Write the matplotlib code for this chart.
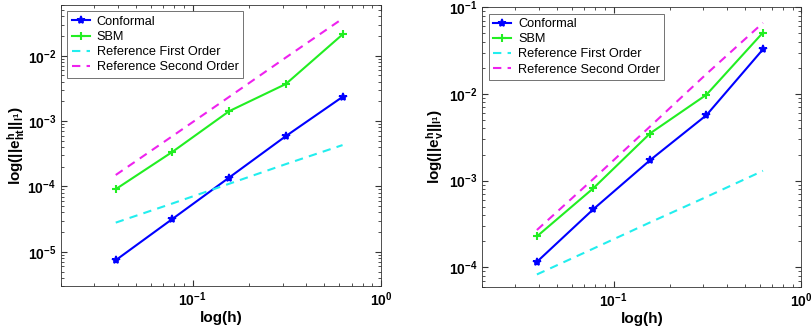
import matplotlib
matplotlib.use("Agg")
from matplotlib import pyplot as plt

plt.rcParams['font.family'] = ['Liberation Sans', 'DejaVu Sans']
plt.rcParams['mathtext.default'] = 'regular'
plt.rcParams['mathtext.fontset'] = 'custom'
plt.rcParams['mathtext.bf'] = 'Liberation Sans:bold'
plt.rcParams['mathtext.rm'] = 'Liberation Sans'

# tamanhos de malha
h = [0.0390625, 0.078125, 0.15625, 0.3125, 0.625]

# erro ht (esquerda)
conf_ht = [7.45e-6, 3.19e-5, 1.37e-4, 5.9e-4, 2.35e-3]
sbm_ht = [9.1e-5, 3.39e-4, 1.42e-3, 3.7e-3, 2.12e-2]
ref1_ht = [2.8e-5, 5.5e-5, 1.1e-4, 2.2e-4, 4.3e-4]
ref2_ht = [1.5e-4, 5.9e-4, 2.35e-3, 9.4e-3, 3.7e-2]

# erro v (direita)
conf_v = [1.16e-4, 4.7e-4, 1.72e-3, 5.7e-3, 3.27e-2]
sbm_v = [2.28e-4, 8.2e-4, 3.5e-3, 9.8e-3, 5.1e-2]
ref1_v = [8.3e-5, 1.65e-4, 3.3e-4, 6.5e-4, 1.3e-3]
ref2_v = [2.7e-4, 1.05e-3, 4.2e-3, 1.7e-2, 6.6e-2]

labels = ["Conformal", "SBM", "Reference First Order", "Reference Second Order"]
ylabels = [r"log(||e$^{\mathbf{h}}_{\mathbf{ht}}$||$_{\mathbf{l^{1}}}$)",
           r"log(||e$^{\mathbf{h}}_{\mathbf{v}}$||$_{\mathbf{l^{1}}}$)"]
ylims = [(3e-6, 6e-2), (6e-5, 1e-1)]
ypads = [0, 2]

fig = plt.figure(figsize=(8.12, 3.28), dpi=100)
ax1 = fig.add_axes([0.0751, 0.128, 0.3941, 0.857])
ax2 = fig.add_axes([0.594, 0.126, 0.3928, 0.852])

dados = [(conf_ht, sbm_ht, ref1_ht, ref2_ht), (conf_v, sbm_v, ref1_v, ref2_v)]
for ax, (c, s, r1, r2), yl, lim, pad in zip([ax1, ax2], dados, ylabels, ylims, ypads):
    ax.loglog(h, c, '-*', color='#0000ff', lw=1.5, ms=6, mew=1.2, label=labels[0])
    ax.loglog(h, s, '-+', color='#22ee22', lw=1.5, ms=6, mew=1.5, label=labels[1])
    ax.loglog(h, r1, '--', color='#22eeee', lw=1.5, dashes=(4, 3), label=labels[2])
    ax.loglog(h, r2, '--', color='#ee22ee', lw=1.5, dashes=(4, 3), label=labels[3])
    ax.set_xlim(0.02, 1)
    ax.set_ylim(*lim)
    ax.set_xlabel("log(h)", fontsize=11, fontweight='bold', labelpad=1)
    ax.set_ylabel(yl, fontsize=11, fontweight='bold', labelpad=pad)
    ax.tick_params(which='both', direction='in', top=True, right=True, colors='#333333',
                   labelcolor='black', labelsize=10)
    ax.tick_params(which='major', length=4)
    ax.tick_params(which='minor', length=2)
    for t in ax.get_xticklabels() + ax.get_yticklabels():
        t.set_fontweight('bold')
    for sp in ax.spines.values():
        sp.set_color('#333333')
        sp.set_linewidth(0.6)
    leg = ax.legend(loc='upper left', fontsize=9.2, frameon=True, fancybox=False,
                    handlelength=1.4, borderpad=0.35, labelspacing=0.25,
                    handletextpad=0.55, borderaxespad=0.5)
    leg.get_frame().set_edgecolor('#333333')
    leg.get_frame().set_linewidth(0.6)

plt.savefig("out.png", dpi=100)
plt.close()
